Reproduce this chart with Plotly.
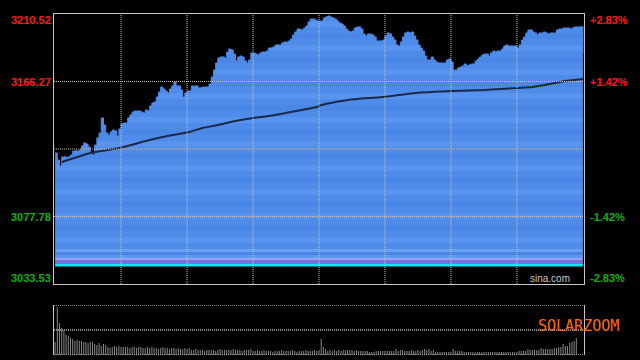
import plotly.graph_objects as go

# ---------------- data ----------------
def _session_minutes():
    out = []
    for m in range(9 * 60 + 30, 11 * 60 + 31):
        out.append(f"{m // 60:02d}:{m % 60:02d}")
    for m in range(13 * 60 + 1, 15 * 60 + 1):
        out.append(f"{m // 60:02d}:{m % 60:02d}")
    return out

times = _session_minutes()

price = [
    3119.40, 3114.81, 3110.88, 3116.78, 3116.90, 3116.60, 3116.85, 3118.09, 3120.71, 3120.80,
    3120.65, 3121.37, 3123.99, 3125.96, 3125.30, 3123.34, 3118.75, 3118.09, 3124.65, 3129.24,
    3132.51, 3142.35, 3137.76, 3132.51, 3131.20, 3133.17, 3134.48, 3133.82, 3130.55, 3135.14,
    3138.41, 3139.07, 3139.00, 3142.35, 3144.31, 3146.28, 3146.93, 3146.90, 3147.00, 3146.28,
    3145.62, 3147.59, 3146.93, 3150.21, 3152.18, 3152.83, 3156.11, 3159.39, 3162.67, 3161.36,
    3160.04, 3158.73, 3161.36, 3163.32, 3165.94, 3163.32, 3163.40, 3160.70, 3156.11, 3158.73,
    3160.04, 3160.10, 3163.32, 3163.25, 3163.40, 3162.01, 3162.10, 3162.67, 3162.60, 3162.70,
    3164.63, 3169.22, 3173.81, 3178.40, 3181.68, 3182.33, 3182.40, 3181.68, 3185.61, 3187.58,
    3186.92, 3184.30, 3179.71, 3182.33, 3182.99, 3182.33, 3179.71, 3178.40, 3180.37, 3184.95,
    3185.00, 3184.30, 3183.64, 3184.95, 3185.61, 3185.55, 3186.27, 3188.23, 3188.30, 3188.89,
    3190.20, 3190.25, 3190.15, 3191.51, 3192.17, 3192.10, 3192.82, 3194.13, 3196.75, 3198.72,
    3200.69, 3200.60, 3200.03, 3201.34, 3202.65, 3205.28, 3207.24, 3207.30, 3206.59, 3205.93,
    3205.90, 3205.95, 3207.90, 3208.55, 3209.21, 3208.55, 3207.90, 3207.24, 3205.93, 3204.62,
    3203.96, 3202.65, 3200.69, 3199.38, 3198.72, 3199.38, 3201.34, 3202.00, 3202.05, 3200.69,
    3197.41, 3196.10, 3197.41, 3197.35, 3196.75, 3195.44, 3192.82, 3192.90, 3192.80, 3193.48,
    3196.10, 3198.07, 3197.41, 3195.44, 3193.48, 3190.20, 3189.54, 3192.17, 3195.44, 3198.07,
    3198.72, 3198.07, 3198.72, 3196.10, 3193.48, 3190.20, 3188.23, 3186.27, 3182.99, 3180.37,
    3180.30, 3182.33, 3180.37, 3179.06, 3178.40, 3178.45, 3178.35, 3178.40, 3180.37, 3181.02,
    3179.06, 3173.81, 3173.75, 3175.12, 3175.78, 3176.43, 3177.74, 3176.43, 3177.09, 3177.74,
    3177.80, 3179.71, 3181.02, 3182.33, 3183.64, 3184.30, 3184.25, 3182.99, 3184.95, 3186.27,
    3185.61, 3186.27, 3186.20, 3187.58, 3189.54, 3190.20, 3189.54, 3189.60, 3189.50, 3189.55,
    3188.23, 3190.20, 3193.48, 3195.44, 3198.07, 3200.03, 3200.10, 3198.72, 3198.07, 3196.75,
    3198.07, 3198.00, 3198.72, 3198.07, 3197.41, 3198.07, 3198.10, 3198.00, 3200.03, 3200.69,
    3200.65, 3201.34, 3201.30, 3201.40, 3200.69, 3201.34, 3202.00, 3202.05, 3202.00, 3202.10,
    3184.95,
]

avg_times = ["09:33", "09:43", "09:46", "09:59", "10:13", "10:21", "10:31", "10:37", "10:44",
             "10:52", "11:00", "11:07", "11:15", "11:22", "11:29", "13:01", "13:13", "13:29",
             "13:44", "14:01", "14:15", "14:30", "14:37", "14:45", "14:52", "15:00"]
avg_price = [3113.50, 3118.09, 3119.40, 3122.68, 3127.93, 3130.55, 3133.17, 3135.79, 3137.76,
             3140.38, 3142.35, 3143.66, 3145.62, 3147.59, 3149.56, 3150.87, 3154.15, 3156.11,
             3158.73, 3160.04, 3160.70, 3162.01, 3162.67, 3164.63, 3166.60, 3167.91]

volume = [
    13, 48, 32, 27, 25, 20, 19, 17, 16, 14,
    15, 14, 14, 13, 13, 12, 13, 13, 11, 10,
    12, 9, 11, 10, 8, 7, 8, 9, 8, 9,
    8, 8, 8, 8, 7, 8, 8, 7, 8, 8,
    7, 7, 8, 7, 8, 7, 7, 6, 7, 8,
    7, 7, 6, 7, 7, 6, 7, 6, 6, 7,
    6, 7, 5, 5, 6, 5, 5, 5, 4, 5,
    5, 5, 5, 4, 5, 6, 5, 5, 5, 5,
    5, 6, 5, 5, 5, 4, 5, 5, 5, 6,
    4, 4, 5, 4, 4, 5, 4, 4, 4, 3,
    4, 4, 4, 5, 4, 4, 4, 4, 5, 4,
    3, 4, 4, 4, 5, 4, 4, 4, 5, 4,
    5, 16, 8, 6, 4, 5, 4, 5, 4, 5,
    4, 5, 5, 5, 5, 5, 4, 5, 4, 4,
    4, 4, 4, 3, 3, 3, 4, 4, 4, 4,
    4, 4, 4, 4, 4, 6, 4, 5, 5, 4,
    4, 4, 5, 4, 4, 5, 4, 5, 6, 5,
    6, 4, 5, 3, 3, 3, 3, 3, 3, 3,
    3, 6, 4, 4, 4, 4, 3, 3, 3, 3,
    3, 3, 3, 3, 3, 3, 3, 3, 3, 3,
    3, 3, 3, 3, 3, 3, 3, 3, 3, 3,
    3, 4, 4, 4, 4, 6, 5, 5, 5, 5,
    5, 7, 6, 6, 6, 6, 6, 7, 7, 8,
    8, 11, 9, 9, 12, 13, 14, 17, 0, 0,
    0,
]

prev_close = 3122.02
y_min, y_max = 3033.53, 3210.52
fill_base = 3045.0
vol_max = 50

left_vals = [3210.52, 3166.27, 3077.78, 3033.53]
left_text = ["3210.52", "3166.27", "3077.78", "3033.53"]
right_text = ["+2.83%", "+1.42%", "-1.42%", "-2.83%"]
label_colors = ["#ff1a1a", "#ff1a1a", "#12b012", "#12b012"]
label_shift = [-6, 0, 0, 6]
grid_prices = [3166.27, prev_close, 3077.78]
grid_times = ["10:00", "10:30", "11:00", "11:30", "13:30", "14:00", "14:30"]

# ---------------- style ----------------
W, H = 640, 360
ML, MR, MT, MB = 54, 56, 14, 5
plot_h = H - MT - MB
main_bottom = (355 - 284) / plot_h
vol_top = (355 - 305) / plot_h
BORDER = "#c8c8c8"
GRID = "#c4c4c4"
BLUE = "#4f8be9"
LABEL_FONT = "Liberation Sans, Arial"

# striped vertical gradient for the area (bottom -> top)
def _frac(pix_y):
    return max(0.0, min(1.0, (266.5 - pix_y) / 252.5))

bands = [(266.5, 264.0, "#18e4f2"), (264.0, 263.0, "#5a7de6"), (263.0, 260.0, "#7a70de"),
         (260.0, 258.0, "#98a4f2"), (258.0, 255.0, "#5c98ef"), (255.0, 252.0, "#4a86e6"),
         (252.0, 249.0, "#68a0f2")]
top = 249.0
alt = [BLUE, "#5893ed", BLUE, "#4b87e6"]
k = 0
while top > 14:
    nxt = max(14.0, top - 6)
    bands.append((top, nxt, alt[k % 4]))
    top = nxt
    k += 1
cscale = []
for a, b, c in bands:
    cscale.append([_frac(a), c])
    cscale.append([_frac(b), c])
cscale[0][0] = 0.0
cscale[-1][0] = 1.0

fig = go.Figure()
fig.add_trace(go.Scatter(x=times, y=[fill_base] * len(times), mode="lines",
                         line=dict(width=0, color="rgba(0,0,0,0)"), hoverinfo="skip",
                         showlegend=False, xaxis="x", yaxis="y"))
fig.add_trace(go.Scatter(x=times, y=price, mode="lines", line=dict(width=1, color=BLUE, shape="hv"),
                         fill="tonexty",
                         fillgradient=dict(type="vertical", colorscale=cscale,
                                           start=fill_base, stop=y_max),
                         showlegend=False, xaxis="x", yaxis="y"))
fig.add_trace(go.Scatter(x=avg_times, y=avg_price, mode="lines",
                         line=dict(width=2, color="#1a2946", shape="spline", smoothing=0.6),
                         showlegend=False, xaxis="x", yaxis="y"))
fig.add_trace(go.Bar(x=times, y=volume, marker=dict(color="#8a8a8a", line=dict(width=0)),
                     showlegend=False, xaxis="x2", yaxis="y2"))

shapes = []
for gp in grid_prices:
    shapes.append(dict(type="line", xref="paper", yref="y", x0=0, x1=1, y0=gp, y1=gp,
                       line=dict(color=GRID, width=1, dash="1px,1px"), layer="above"))
for gt in grid_times:
    shapes.append(dict(type="line", xref="x", yref="y", x0=gt, x1=gt, y0=y_min, y1=y_max,
                       line=dict(color=GRID, width=1, dash="1px,1px"), layer="above"))
for v in [0, vol_max / 2, vol_max]:
    shapes.append(dict(type="line", xref="paper", yref="y2", x0=0, x1=1, y0=v, y1=v,
                       line=dict(color="#b4b4b4", width=1.5, dash="1px,1px"), layer="above"))

annotations = []
for val, lt, rt, col, sh in zip(left_vals, left_text, right_text, label_colors, label_shift):
    annotations.append(dict(x=0, xref="paper", y=val, yref="y", text=f"<b>{lt}</b>", showarrow=False,
                            xanchor="right", yanchor="middle", xshift=-1, yshift=sh,
                            font=dict(family=LABEL_FONT, size=11, color=col)))
    annotations.append(dict(x=1, xref="paper", y=val, yref="y", text=f"<b>{rt}</b>", showarrow=False,
                            xanchor="left", yanchor="middle", xshift=4, yshift=sh,
                            font=dict(family=LABEL_FONT, size=11, color=col)))
annotations.append(dict(x=(572 - ML) / (W - ML - MR), xref="paper", y=y_min, yref="y",
                        text="sina.com", showarrow=False, xanchor="right", yanchor="middle",
                        yshift=6, font=dict(family=LABEL_FONT, size=10, color="#c8c8c8")))
annotations.append(dict(x=(578.5 - ML) / (W - ML - MR), xref="paper", y=vol_max / 2, yref="y2",
                        text="SOLARZOOM", showarrow=False, xanchor="center", yanchor="middle",
                        yshift=4, font=dict(family="DejaVu Sans Mono", size=15, color="#ff6a0f")))

fig.update_layout(
    width=W, height=H, margin=dict(l=ML, r=MR, t=MT, b=MB),
    paper_bgcolor="black", plot_bgcolor="black",
    bargap=0.55, showlegend=False, hovermode=False,
    xaxis=dict(domain=[0, 1], anchor="y", type="category", categoryorder="array",
               categoryarray=times, range=[-0.5, len(times) - 0.5], showticklabels=False,
               ticks="", showgrid=False, zeroline=False, showline=True, mirror=True,
               linecolor=BORDER, linewidth=1),
    yaxis=dict(domain=[main_bottom, 1], anchor="x", range=[y_min, y_max], showticklabels=False,
               ticks="", showgrid=False, zeroline=False, showline=True, mirror=True,
               linecolor=BORDER, linewidth=1),
    xaxis2=dict(domain=[0, 1], anchor="y2", matches="x", type="category", showticklabels=False,
                ticks="", showgrid=False, zeroline=False, showline=False),
    yaxis2=dict(domain=[0, vol_top], anchor="x2", range=[0, vol_max], showticklabels=False,
                ticks="", showgrid=False, zeroline=False, showline=True, mirror=True,
                linecolor=BORDER, linewidth=1),
    shapes=shapes, annotations=annotations,
)

fig.write_html("out.html", config={"displayModeBar": False, "staticPlot": True})

# remove the browser's default page margin so the figure sits at the window origin
with open("out.html", "r", encoding="utf-8") as fh:
    page = fh.read()
page = page.replace("<head>", "<head><style>html,body{margin:0;padding:0;background:#000;overflow:hidden;}</style>", 1)
with open("out.html", "w", encoding="utf-8") as fh:
    fh.write(page)
